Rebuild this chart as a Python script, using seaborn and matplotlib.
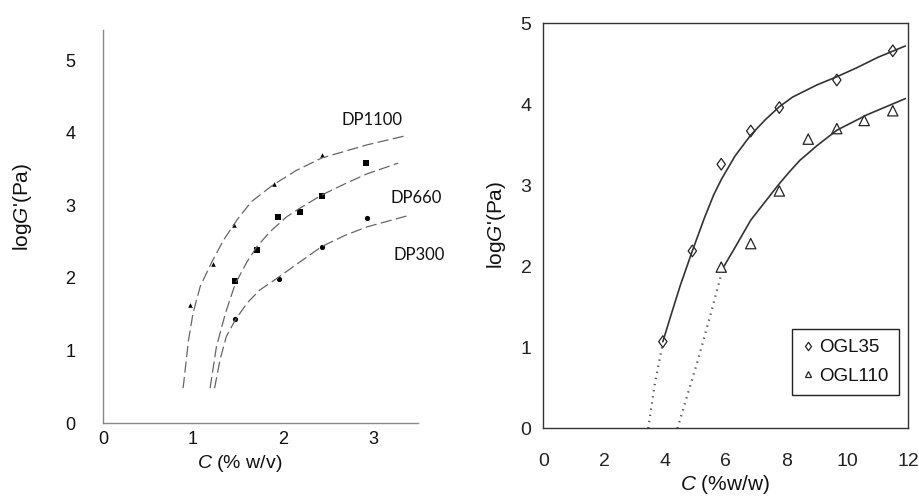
import numpy as np
import pandas as pd
import matplotlib
matplotlib.use("Agg")
import matplotlib.pyplot as plt
from matplotlib.path import Path
from matplotlib.lines import Line2D
import seaborn as sns

# ---------------- data (left panel) ----------------
dp1100_c = [0.97, 1.22, 1.46, 1.90, 2.43]
dp1100_g = [1.62, 2.19, 2.73, 3.29, 3.69]
dp660_c = [1.47, 1.71, 1.94, 2.19, 2.43, 2.92]
dp660_g = [1.96, 2.38, 2.84, 2.91, 3.13, 3.58]
dp300_c = [1.47, 1.95, 2.43, 2.93]
dp300_g = [1.43, 1.98, 2.43, 2.83]

fit1100_c = [0.89, 0.95, 1.00, 1.08, 1.21, 1.34, 1.49, 1.65, 1.89, 2.15, 2.43, 2.93, 3.34]
fit1100_g = [0.48, 1.14, 1.51, 1.88, 2.22, 2.52, 2.80, 3.05, 3.28, 3.48, 3.65, 3.83, 3.95]
fit660_c = [1.19, 1.26, 1.36, 1.47, 1.60, 1.71, 1.86, 2.04, 2.19, 2.43, 2.68, 2.93, 3.28]
fit660_g = [0.48, 1.05, 1.51, 1.92, 2.22, 2.43, 2.64, 2.84, 2.96, 3.14, 3.29, 3.43, 3.58]
fit300_c = [1.24, 1.30, 1.37, 1.47, 1.60, 1.74, 1.93, 2.19, 2.43, 2.68, 2.93, 3.37]
fit300_g = [0.48, 0.87, 1.19, 1.42, 1.65, 1.83, 1.99, 2.22, 2.43, 2.58, 2.70, 2.85]

left_labels = ["DP1100", "DP660", "DP300"]
left_label_x = [2.99, 3.48, 3.51]
left_label_y = [4.17, 3.10, 2.31]
left_xticks = [0, 1, 2, 3]
left_yticks = [0, 1, 2, 3, 4, 5]

# ---------------- data (right panel) ----------------
ogl35_c = [3.93, 4.90, 5.85, 6.82, 7.76, 9.65, 11.49]
ogl35_g = [1.07, 2.19, 3.26, 3.67, 3.96, 4.30, 4.66]
ogl110_c = [5.85, 6.82, 7.76, 8.71, 9.65, 10.55, 11.49]
ogl110_g = [1.99, 2.28, 2.93, 3.57, 3.70, 3.80, 3.92]

fit35_c = [3.93, 4.20, 4.50, 4.90, 5.30, 5.60, 5.85, 6.30, 6.82, 7.30, 7.76, 8.20, 9.00, 9.65, 10.30, 11.00, 11.90]
fit35_g = [1.07, 1.40, 1.76, 2.19, 2.60, 2.88, 3.07, 3.36, 3.62, 3.81, 3.97, 4.09, 4.24, 4.34, 4.45, 4.58, 4.72]
ext35_c = [3.45, 3.67, 3.93]
ext35_g = [0.00, 0.56, 1.05]
fit110_c = [5.94, 6.30, 6.82, 7.30, 7.76, 8.10, 8.44, 9.00, 9.65, 10.64, 11.90]
fit110_g = [2.00, 2.23, 2.57, 2.80, 3.02, 3.17, 3.31, 3.49, 3.68, 3.87, 4.07]
ext110_c = [4.41, 5.05, 5.48, 5.85]
ext110_g = [0.00, 0.80, 1.38, 1.90]

right_names = ["OGL35", "OGL110"]
right_xticks = [0, 2, 4, 6, 8, 10, 12]
right_yticks = [0, 1, 2, 3, 4, 5]

# ---------------- style ----------------
sns.set_theme(style="white")
plt.rcParams["font.family"] = ["Liberation Sans", "DejaVu Sans"]
plt.rcParams["mathtext.fontset"] = "custom"
plt.rcParams["mathtext.it"] = "Liberation Sans:italic"
plt.rcParams["mathtext.rm"] = "Liberation Sans"

fig = plt.figure(figsize=(9.19, 4.97), dpi=100)

W, H = 919.0, 497.0
axL = fig.add_axes([103 / W, 1 - 423 / H, (418 - 103) / W, (423 - 30) / H])
axR = fig.add_axes([543.3 / W, 1 - 428.3 / H, 365 / W, 405 / H])

# ---------- left panel ----------
dash_kw = dict(color="#666666", linewidth=0.9, dashes=(9, 3.5))
for c, g in [(fit1100_c, fit1100_g), (fit660_c, fit660_g), (fit300_c, fit300_g)]:
    df = pd.DataFrame({"c": c, "g": g})
    sns.lineplot(data=df, x="c", y="g", ax=axL, sort=False, estimator=None, **dash_kw)

sns.scatterplot(x=dp1100_c, y=dp1100_g, ax=axL, marker="^", s=11, color="black", linewidth=0)
sns.scatterplot(x=dp660_c, y=dp660_g, ax=axL, marker="s", s=14, color="black", linewidth=0)
sns.scatterplot(x=dp300_c, y=dp300_g, ax=axL, marker="o", s=14, color="black", linewidth=0)

for lab, x, y in zip(left_labels, left_label_x, left_label_y):
    axL.text(x, y, lab, ha="center", va="center", fontsize=12,
             family=["Lato", "DejaVu Sans"], color="#111111")

axL.set_xlim(0, 3.5)
axL.set_ylim(0, (423 - 30) / 72.6)
axL.set_xticks(left_xticks)
axL.set_yticks(left_yticks)
axL.tick_params(axis="both", direction="in", length=3, width=0.8, color="#777777",
                labelsize=13, labelcolor="#111111")
axL.tick_params(axis="y", pad=20)
axL.tick_params(axis="x", pad=6)
for s in ["top", "right"]:
    axL.spines[s].set_visible(False)
for s in ["left", "bottom"]:
    axL.spines[s].set_color("#888888")
    axL.spines[s].set_linewidth(1.0)

axL.set_xlabel(r"$\it{C}$ (% w/v)", fontsize=14, color="#111111")
axL.xaxis.set_label_coords((240 - 103) / 315, (423 - 463) / 393)
axL.xaxis.label.set_va("center")
axL.set_ylabel(r"log$\it{G}$'(Pa)", fontsize=15, color="#111111")
axL.yaxis.set_label_coords((22 - 103) / 315, (423 - 207) / 393)
axL.yaxis.label.set_va("center")

# ---------- right panel ----------
solid_kw = dict(color="#333333", linewidth=1.2)
dot_kw = dict(color="#555555", linewidth=1.6, dashes=(0.6, 2.2))
for c, g in [(fit35_c, fit35_g), (fit110_c, fit110_g)]:
    sns.lineplot(x=c, y=g, ax=axR, sort=False, estimator=None, **solid_kw)
for c, g in [(ext35_c, ext35_g), (ext110_c, ext110_g)]:
    sns.lineplot(x=c, y=g, ax=axR, sort=False, estimator=None, **dot_kw)

diamond = Path([(0, 1), (0.72, 0), (0, -1), (-0.72, 0), (0, 1)],
               [Path.MOVETO, Path.LINETO, Path.LINETO, Path.LINETO, Path.CLOSEPOLY])
sns.scatterplot(x=ogl35_c, y=ogl35_g, ax=axR, marker=diamond, s=70,
                facecolors="none", edgecolor="#222222", linewidth=0.9)
sns.scatterplot(x=ogl110_c, y=ogl110_g, ax=axR, marker="^", s=55,
                facecolors="none", edgecolor="#222222", linewidth=0.9)

axR.set_xlim(0, 12)
axR.set_ylim(0, 5)
axR.set_xticks(np.arange(0, 13, 1))
axR.set_xticklabels([str(v) if v in right_xticks else "" for v in range(13)])
axR.set_yticks(np.arange(0, 5.01, 0.5))
axR.set_yticklabels([str(int(v)) if float(v).is_integer() else "" for v in np.arange(0, 5.01, 0.5)])
axR.tick_params(axis="both", direction="inout", length=9, width=1.0, color="#333333",
                labelsize=14, labelcolor="#222222")
axR.tick_params(axis="x", pad=13)
axR.tick_params(axis="y", pad=4)
for s in axR.spines.values():
    s.set_color("#333333")
    s.set_linewidth(1.0)

axR.set_xlabel(r"$\it{C}$ (%w/w)", fontsize=15, color="#111111")
axR.xaxis.set_label_coords(0.498, (428.3 - 485) / 405)
axR.xaxis.label.set_va("center")
axR.set_ylabel(r"log$\it{G}$'(Pa)", fontsize=15, color="#111111")
axR.yaxis.set_label_coords((496 - 543.3) / 365, 0.502)
axR.yaxis.label.set_va("center")

handles = [
    Line2D([], [], marker=diamond, markersize=6, linestyle="none",
           markerfacecolor="none", markeredgecolor="#222222", markeredgewidth=0.9),
    Line2D([], [], marker="^", markersize=5, linestyle="none",
           markerfacecolor="none", markeredgecolor="#222222", markeredgewidth=0.9),
]
leg = axR.legend(handles, right_names, loc="lower left", bbox_to_anchor=(0.681, 0.082),
                 frameon=True, fancybox=False, edgecolor="#222222", framealpha=1,
                 handlelength=0.6, handletextpad=0.3, borderpad=0.55, labelspacing=0.6,
                 borderaxespad=0, prop={"size": 13.5})
leg.get_frame().set_linewidth(1.0)
for t in leg.get_texts():
    t.set_color("#111111")

fig.savefig("out.png", dpi=100)
